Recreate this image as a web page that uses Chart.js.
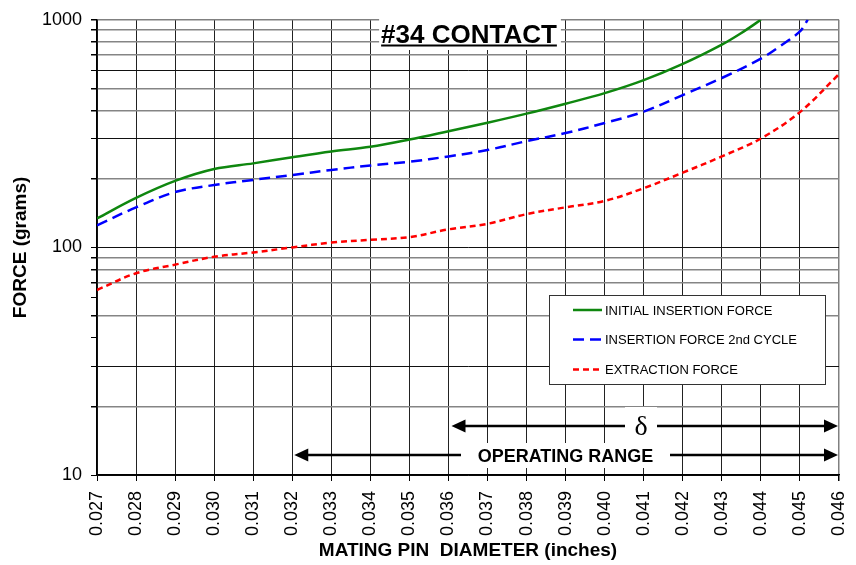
<!DOCTYPE html>
<html>
<head>
<meta charset="utf-8">
<script src="https://cdn.jsdelivr.net/npm/chart.js@4.4.1/dist/chart.umd.min.js"></script>
<style>
  html, body { margin: 0; padding: 0; background: #fff; }
  #wrap { width: 856px; height: 565px; }
</style>
</head>
<body>
<div id="wrap"><canvas id="c" width="856" height="565"></canvas></div>
<script>
// ---- data ----
const chartTitle = '#34 CONTACT';
const xTickValues = [0.027,0.028,0.029,0.030,0.031,0.032,0.033,0.034,0.035,0.036,0.037,0.038,0.039,0.040,0.041,0.042,0.043,0.044,0.045,0.046];
const xTickLabels = ['0.027','0.028','0.029','0.030','0.031','0.032','0.033','0.034','0.035','0.036','0.037','0.038','0.039','0.040','0.041','0.042','0.043','0.044','0.045','0.046'];
const yTickValues = [10,20,30,40,50,60,70,80,90,100,200,300,400,500,600,700,800,900,1000];
const yTickLabels = [10,100,1000];

const initialX     = [0.027,0.028,0.029,0.030,0.031,0.032,0.033,0.034,0.035,0.036,0.037,0.038,0.039,0.040,0.041,0.042,0.043,0.0435,0.0440];
const initialForce = [134,165,196,221,234,249,264,277,298,324,353,387,428,476,543,640,778,875,1000];

const secondX      = [0.027,0.028,0.029,0.030,0.031,0.032,0.033,0.034,0.035,0.036,0.037,0.038,0.039,0.040,0.041,0.042,0.043,0.044,0.0445,0.045,0.0452];
const secondForce  = [125,150,175,188,198,208,219,229,238,251,268,293,318,352,395,467,555,675,768,889,1000];

const extractionX     = [0.027,0.028,0.029,0.030,0.031,0.032,0.033,0.034,0.035,0.036,0.037,0.038,0.039,0.040,0.041,0.042,0.043,0.044,0.045,0.046];
const extractionForce = [65,77,84,91,95,100,105,108,111,120,127,140,150,160,182,213,251,301,393,577];

const seriesNames = ['INITIAL INSERTION FORCE','INSERTION FORCE 2nd CYCLE','EXTRACTION FORCE'];

const deltaRange = [0.036, 0.046];
const operatingRange = [0.032, 0.046];
// --------------------------------------

const FONT = "'Liberation Sans', Arial, Helvetica, sans-serif";
const toPts = (xs, ys) => xs.map((x, i) => ({ x: x, y: ys[i] }));

const grayY = new Set([20,50,70,80,90,200,400,500,700,800,900]);
const hiddenY = new Set([40,60]);

function drawArrow(ctx, x1, x2, y, gapL, gapR) {
  ctx.save();
  ctx.strokeStyle = '#000';
  ctx.fillStyle = '#000';
  ctx.lineWidth = 2.5;
  const head = 14, hw = 6.5;
  ctx.beginPath();
  ctx.moveTo(x1 + head - 1, y); ctx.lineTo(gapL, y);
  ctx.moveTo(gapR, y); ctx.lineTo(x2 - head + 1, y);
  ctx.stroke();
  ctx.beginPath();
  ctx.moveTo(x1, y); ctx.lineTo(x1 + head, y - hw); ctx.lineTo(x1 + head, y + hw); ctx.closePath();
  ctx.fill();
  ctx.beginPath();
  ctx.moveTo(x2, y); ctx.lineTo(x2 - head, y - hw); ctx.lineTo(x2 - head, y + hw); ctx.closePath();
  ctx.fill();
  ctx.restore();
}

const overlayPlugin = {
  id: 'overlay',
  afterDatasetsDraw(chart) {
    const ctx = chart.ctx;
    const xs = chart.scales.x;
    const ds = chart.data.datasets;

    // Title box
    ctx.save();
    ctx.font = "bold 26px " + FONT;
    const tw = ctx.measureText(chartTitle).width;
    const tcx = 469;
    ctx.fillStyle = '#fff';
    ctx.fillRect(tcx - tw / 2 - 2, 16, tw + 6, 34);
    ctx.fillStyle = '#000';
    ctx.textAlign = 'center';
    ctx.textBaseline = 'alphabetic';
    ctx.fillText(chartTitle, tcx, 43);
    ctx.fillRect(tcx - tw / 2, 44.5, tw, 2);
    ctx.restore();

    // Legend box
    ctx.save();
    ctx.fillStyle = '#fff';
    ctx.fillRect(549.5, 295.5, 276, 89);
    ctx.strokeStyle = '#333';
    ctx.lineWidth = 1;
    ctx.strokeRect(549.5, 295.5, 276, 89);
    const rows = [310, 339.5, 369.5];
    ctx.font = "13px " + FONT;
    ctx.textBaseline = 'middle';
    ctx.textAlign = 'left';
    ds.forEach((d, i) => {
      ctx.save();
      ctx.strokeStyle = d.borderColor;
      ctx.lineWidth = d.borderWidth;
      ctx.setLineDash(d.borderDash || []);
      ctx.beginPath();
      ctx.moveTo(573, rows[i]);
      ctx.lineTo(602, rows[i]);
      ctx.stroke();
      ctx.restore();
      ctx.fillStyle = '#000';
      ctx.fillText(d.label, 605, rows[i] + 1);
    });
    ctx.restore();

    // Delta range arrow
    const dx1 = xs.getPixelForValue(deltaRange[0]) + 3;
    const dx2 = xs.getPixelForValue(deltaRange[1]) - 1;
    const dY = 426;
    ctx.save();
    ctx.fillStyle = '#fff';
    ctx.fillRect(625, 407, 32, 36);
    ctx.restore();
    drawArrow(ctx, dx1, dx2, dY, 625, 657);
    ctx.save();
    ctx.fillStyle = '#000';
    ctx.font = "28px 'Liberation Serif', 'Times New Roman', serif";
    ctx.textAlign = 'center';
    ctx.textBaseline = 'alphabetic';
    ctx.fillText('\u03B4', 641, 435);
    ctx.restore();

    // Operating range arrow
    const ox1 = xs.getPixelForValue(operatingRange[0]) + 2;
    const ox2 = xs.getPixelForValue(operatingRange[1]) - 1;
    const oY = 455;
    ctx.save();
    ctx.fillStyle = '#fff';
    ctx.fillRect(461, 443, 209, 25);
    ctx.restore();
    drawArrow(ctx, ox1, ox2, oY, 461, 670);
    ctx.save();
    ctx.fillStyle = '#000';
    ctx.font = "bold 18px " + FONT;
    ctx.textAlign = 'center';
    ctx.textBaseline = 'middle';
    ctx.fillText('OPERATING RANGE', 565.5, 457);
    ctx.restore();
  }
};

new Chart(document.getElementById('c'), {
  type: 'line',
  data: {
    datasets: [
      { label: seriesNames[0], data: toPts(initialX, initialForce), borderColor: '#0f870f', borderWidth: 2.5, pointRadius: 0, tension: 0.35, fill: false },
      { label: seriesNames[1], data: toPts(secondX, secondForce), borderColor: '#0000ff', borderWidth: 2.5, borderDash: [11, 6], pointRadius: 0, tension: 0.35, fill: false },
      { label: seriesNames[2], data: toPts(extractionX, extractionForce), borderColor: '#ff0000', borderWidth: 2.5, borderDash: [6, 4], pointRadius: 0, tension: 0.35, fill: false }
    ]
  },
  options: {
    responsive: false,
    animation: false,
    devicePixelRatio: 1,
    layout: { padding: { top: 15, right: 17, left: 0, bottom: 0 } },
    plugins: { legend: { display: false }, tooltip: { enabled: false }, title: { display: false } },
    scales: {
      x: {
        type: 'linear',
        min: 0.027,
        max: 0.046,
        afterBuildTicks: (scale) => { scale.ticks = xTickValues.map(v => ({ value: v })); },
        afterFit: (scale) => { scale.height = 90; scale.paddingRight = 0; scale.paddingLeft = 0; },
        ticks: {
          autoSkip: false,
          minRotation: 90,
          maxRotation: 90,
          padding: 10,
          color: '#000',
          font: { family: FONT, size: 18 },
          callback: (v, i) => xTickLabels[i]
        },
        grid: {
          color: (c) => (c.tick && Math.abs(c.tick.value - 0.046) < 1e-9) ? '#808080' : '#222',
          tickColor: '#000',
          lineWidth: (c) => (c.tick && Math.abs(c.tick.value - 0.046) < 1e-9) ? 1.5 : 1,
          tickLength: 6
        },
        border: { color: '#000', width: 1.5 },
        title: {
          display: true,
          text: 'MATING PIN  DIAMETER (inches)',
          color: '#000',
          font: { family: FONT, size: 19, weight: 'bold' },
          padding: { top: 0, bottom: 3 }
        }
      },
      y: {
        type: 'logarithmic',
        min: 10,
        max: 1000,
        afterBuildTicks: (scale) => { scale.ticks = yTickValues.map(v => ({ value: v, major: yTickLabels.includes(v) })); },
        afterFit: (scale) => { scale.width = 97; },
        ticks: {
          autoSkip: false,
          padding: 9,
          color: '#000',
          font: { family: FONT, size: 18 },
          callback: (v) => yTickLabels.includes(v) ? String(v) : ''
        },
        grid: {
          color: (c) => {
            const v = c.tick ? c.tick.value : 0;
            if (v === 1000) return '#808080';
            if (hiddenY.has(v)) return 'rgba(0,0,0,0)';
            if (grayY.has(v)) return '#858585';
            return '#111';
          },
          lineWidth: (c) => {
            const v = c.tick ? c.tick.value : 0;
            return (grayY.has(v) || v === 1000) ? 1.5 : 1;
          },
          tickColor: '#000',
          tickLength: 6
        },
        border: { color: '#000', width: 1.5 },
        title: {
          display: true,
          text: 'FORCE (grams)',
          color: '#000',
          font: { family: FONT, size: 19, weight: 'bold' },
          padding: { top: 9, bottom: 0 }
        }
      }
    }
  },
  plugins: [overlayPlugin]
});
</script>
</body>
</html>
